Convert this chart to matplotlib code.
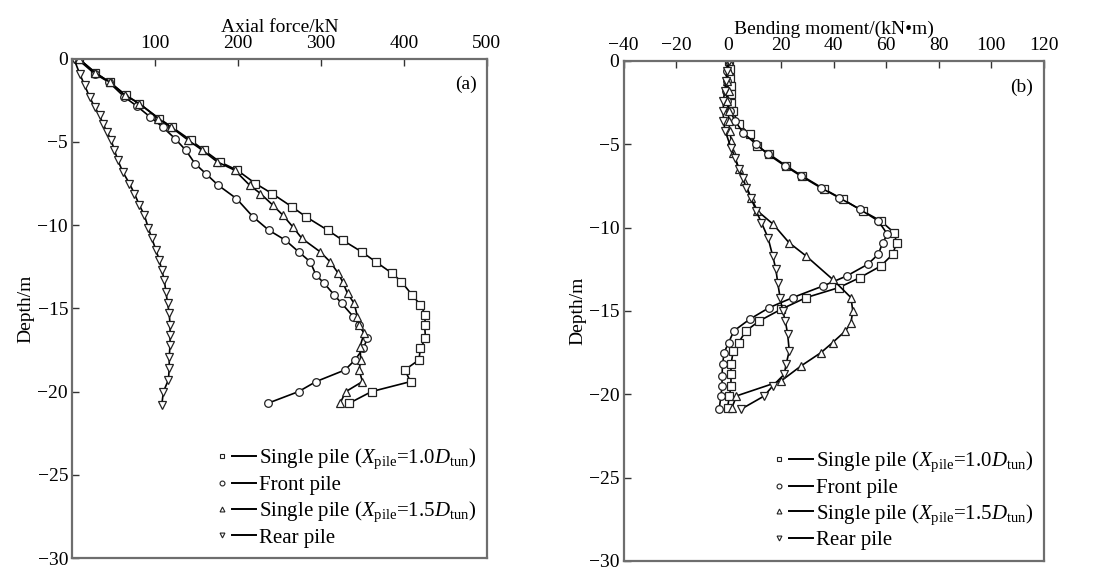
import matplotlib
matplotlib.use("Agg")
import matplotlib.pyplot as plt
from matplotlib.lines import Line2D
from matplotlib.legend_handler import HandlerBase

plt.rcParams['font.family'] = ['Liberation Serif', 'DejaVu Serif']
plt.rcParams['mathtext.fontset'] = 'custom'
plt.rcParams['mathtext.rm'] = 'Liberation Serif'
plt.rcParams['mathtext.it'] = 'Liberation Serif:italic'

# ---- (a) axial force ----
axial_single10_depth = [0, -0.85, -1.4, -2.2, -2.7, -3.6, -4.1, -4.9, -5.5, -6.2, -6.7, -7.5, -8.1, -8.9,
                        -9.5, -10.3, -10.9, -11.6, -12.2, -12.9, -13.4, -14.2, -14.8, -15.4, -16.0, -16.8,
                        -17.4, -18.1, -18.7, -19.4, -20.0, -20.7]
axial_single10 = [8, 28, 45, 65, 81, 105, 120, 143, 159, 178, 199, 221, 241, 265,
                  282, 308, 326, 349, 366, 386, 397, 410, 420, 426, 425, 426,
                  420, 418, 401, 408, 361, 334]

axial_front_depth = [0, -0.9, -1.4, -2.3, -2.85, -3.5, -4.1, -4.8, -5.5, -6.3, -6.9, -7.6, -8.4, -9.5,
                     -10.3, -10.9, -11.6, -12.2, -13.0, -13.5, -14.2, -14.7, -15.5, -16.0, -16.8, -17.4,
                     -18.1, -18.7, -19.4, -20.0, -20.7]
axial_front = [6, 27, 44, 63, 78, 94, 109, 124, 137, 148, 161, 176, 198, 218,
               237, 257, 273, 287, 294, 304, 316, 325, 339, 346, 356, 351,
               341, 329, 294, 273, 236]

axial_single15_depth = [0, -0.85, -1.4, -2.2, -2.7, -3.6, -4.1, -4.9, -5.5, -6.2, -6.7, -7.6, -8.1, -8.8,
                        -9.4, -10.1, -10.8, -11.6, -12.2, -12.9, -13.4, -14.1, -14.7, -15.5, -16.0, -16.5,
                        -17.3, -18.1, -18.7, -19.4, -20.0, -20.7]
axial_single15 = [8, 28, 45, 64, 81, 104, 119, 140, 157, 175, 196, 214, 227, 242,
                  254, 266, 277, 299, 311, 321, 326, 332, 340, 344, 346, 352,
                  347, 348, 346, 350, 330, 323]

axial_rear_depth = [0, -0.9, -1.6, -2.3, -2.9, -3.4, -3.9, -4.4, -4.9, -5.5, -6.1, -6.8, -7.5, -8.1,
                    -8.8, -9.4, -10.2, -10.8, -11.5, -12.1, -12.7, -13.3, -14.0, -14.7, -15.3, -16.0,
                    -16.6, -17.2, -17.9, -18.6, -19.3, -20.0, -20.8]
axial_rear = [2, 9, 15, 21, 27, 33, 37, 42, 47, 51, 55, 61, 69, 75,
              81, 87, 92, 96, 101, 105, 108, 111, 113, 115, 117, 118,
              118, 118, 117, 117, 116, 110, 108]

# ---- (b) bending moment ----
moment_single10_depth = [0, -0.5, -1.0, -1.5, -2.0, -2.5, -3.0, -3.8, -4.4, -5.1, -5.6, -6.3, -6.9, -7.7,
                         -8.3, -9.0, -9.6, -10.3, -10.9, -11.6, -12.3, -13.0, -13.6, -14.2, -14.9, -15.6,
                         -16.2, -16.9, -17.4, -18.2, -18.8, -19.5, -20.1, -20.8]
moment_single10 = [0, 0.5, 0.5, 0.8, 1, 1, 1.5, 4, 8, 11, 15.5, 22, 28, 36.5,
                   43.5, 51, 58, 63, 64, 62.5, 58, 50, 42, 29.5, 20, 11.7,
                   6.6, 3.8, 1.8, 0.9, 0.9, 0.9, 0.3, -0.4]

moment_front_depth = [0, -0.6, -1.2, -1.8, -2.4, -3.0, -3.6, -4.3, -5.0, -5.6, -6.3, -6.9, -7.6, -8.2,
                      -8.9, -9.6, -10.4, -10.9, -11.6, -12.2, -12.9, -13.5, -14.2, -14.8, -15.5, -16.2,
                      -16.9, -17.5, -18.2, -18.9, -19.5, -20.1, -20.9]
moment_front = [0, -0.5, -0.5, -1, -0.5, 0.5, 2.5, 5.5, 10.5, 15, 21.5, 27.5, 35, 42,
                50, 57, 60.5, 58.7, 57, 53, 45, 36, 24.4, 15.5, 8, 2,
                0, -1.7, -2.3, -2.5, -2.5, -2.9, -3.6]

moment_single15_depth = [0, -0.6, -1.2, -1.8, -2.4, -3.0, -3.6, -4.2, -4.8, -5.5, -6.5, -7.2, -8.2, -9.0,
                         -9.8, -10.9, -11.7, -13.1, -14.2, -15.0, -15.7, -16.2, -16.9, -17.5, -18.3, -19.2,
                         -20.1, -20.8]
moment_single15 = [0, 0, -0.5, 0, -0.5, 0, 0, 0.5, 1, 1.5, 4, 6, 8.5, 11,
                   17, 23, 29.5, 39.6, 46.6, 47.3, 46.6, 44.5, 39.6, 35.2, 27.6, 20,
                   3, 1.3]

moment_rear_depth = [0, -0.6, -1.2, -1.8, -2.4, -3.0, -3.6, -4.2, -5.2, -5.8, -6.5, -7.0, -7.6, -8.2,
                     -9.0, -9.7, -10.6, -11.7, -12.5, -13.3, -14.2, -15.0, -15.6, -16.4, -17.4, -18.2,
                     -18.8, -19.5, -20.1, -20.9]
moment_rear = [0, -0.5, -1, -1.5, -2, -2, -2, -1.3, 0.9, 2.5, 4, 5.5, 6.6, 8.5,
               10.5, 12.5, 15, 16.8, 18, 18.7, 19.6, 20.6, 21.6, 22.5, 23.1, 21.9,
               21.2, 16.8, 13.6, 4.7]

legend_labels = [r'Single pile ($X_{\rm pile}$=1.0$D_{\rm tun}$)',
                 'Front pile',
                 r'Single pile ($X_{\rm pile}$=1.5$D_{\rm tun}$)',
                 'Rear pile']
markers = ['s', 'o', '^', 'v']

FS = 14
LEG_FS = 15
frame_color = '#6e6e6e'


class MarkerThenLine(HandlerBase):
    """Legend key drawn as a small marker followed by a short line."""

    def create_artists(self, legend, orig_handle, xdescent, ydescent, width, height, fontsize, trans):
        y = height / 2 - ydescent
        x0 = -xdescent
        mk = Line2D([x0 + 2.5], [y], ls='none', marker=orig_handle.get_marker(), ms=3.5,
                    mfc='white', mec='#222222', mew=0.8, transform=trans)
        ln = Line2D([x0 + 0.36 * width, x0 + width], [y, y], color='k', lw=1.4, transform=trans)
        return [mk, ln]


def draw_series(ax, xs, ys, marker):
    ax.plot(xs, ys, color='k', lw=1.2, marker=marker, ms=5.5,
            mfc='white', mec='#222222', mew=0.9)


def style_axes(ax, xlabel, xlim, xticks, tag):
    ax.set_xlim(*xlim)
    ax.set_ylim(-30, 0)
    ax.set_xticks(xticks)
    ax.set_yticks([0, -5, -10, -15, -20, -25, -30])
    ax.xaxis.set_ticks_position('top')
    ax.xaxis.set_label_position('top')
    ax.tick_params(axis='both', direction='in', length=5, width=1, labelsize=FS,
                   color='#333333', pad=3)
    ax.tick_params(axis='x', pad=5)
    ax.set_xlabel(xlabel, fontsize=FS, labelpad=2)
    ax.set_ylabel('Depth/m', fontsize=FS, labelpad=2)
    for s in ax.spines.values():
        s.set_color(frame_color)
        s.set_linewidth(1.6)
    ax.text(0.975, 0.965, tag, transform=ax.transAxes, ha='right', va='top', fontsize=FS)

    handles = [Line2D([], [], marker=m, color='k') for m in markers]
    ax.legend(handles, legend_labels, handler_map={Line2D: MarkerThenLine()},
              loc='lower right', bbox_to_anchor=(1.0, 0.0), frameon=False, fontsize=LEG_FS,
              handlelength=1.8, handletextpad=0.15, labelspacing=0.2, borderpad=0.3,
              borderaxespad=0.2)


fig = plt.figure(figsize=(10.94, 5.70), dpi=100)
ax1 = fig.add_axes([0.066, 0.021, 0.379, 0.876])
ax2 = fig.add_axes([0.570, 0.016, 0.384, 0.877])

draw_series(ax1, axial_single10, axial_single10_depth, 's')
draw_series(ax1, axial_front, axial_front_depth, 'o')
draw_series(ax1, axial_single15, axial_single15_depth, '^')
draw_series(ax1, axial_rear, axial_rear_depth, 'v')
style_axes(ax1, 'Axial force/kN', (0, 500), [100, 200, 300, 400, 500], '(a)')

draw_series(ax2, moment_single10, moment_single10_depth, 's')
draw_series(ax2, moment_front, moment_front_depth, 'o')
draw_series(ax2, moment_single15, moment_single15_depth, '^')
draw_series(ax2, moment_rear, moment_rear_depth, 'v')
style_axes(ax2, 'Bending moment/(kN\u2022m)', (-40, 120), list(range(-40, 121, 20)), '(b)')

fig.savefig('out.png', dpi=100)
